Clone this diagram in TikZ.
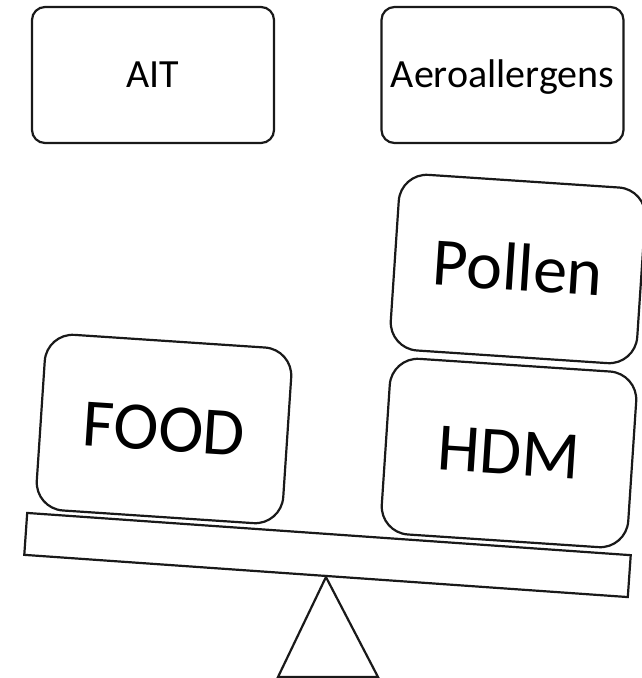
\documentclass[tikz,border=0pt]{standalone}
\usepackage{fontspec}
\setmainfont{Carlito}
\begin{document}
\begin{tikzpicture}[x=1pt,y=-1pt,
  outline/.style={draw=black!90, line width=2.2pt},
  topbox/.style={outline, rounded corners=13pt, minimum width=242pt, minimum height=136pt,
    inner sep=0pt, font=\fontsize{40}{48}\selectfont, text height=25.3pt, text depth=0pt},
  weight/.style={outline, rounded corners=28pt, minimum width=247pt, minimum height=176pt,
    inner sep=0pt, rotate=-3.8, font=\fontsize{68}{80}\selectfont, text height=43pt, text depth=0pt},
  beambox/.style={outline, minimum width=605pt, minimum height=42pt, inner sep=0pt, rotate=-4}]
\useasboundingbox (0,0) rectangle (641,678);

% labels above the balance
\node[topbox] (ait) at (153,75) {AIT};
\node[topbox] (aero) at (502.5,75) {Aeroallergens};

% weights on the balance
\node[weight] (food) at (164,429) {FOOD};
\node[weight] (hdm) at (509,453) {HDM};
\node[weight] (pollen) at (518,269) {Pollen};

% beam and pivot
\node[beambox] (beam) at (327.5,555) {};
\coordinate (pl) at (278,677);
\coordinate (pr) at (378,677);
\draw[outline, line join=miter] (beam.south) -- (pr) -- (pl) -- cycle;
\end{tikzpicture}
\end{document}
